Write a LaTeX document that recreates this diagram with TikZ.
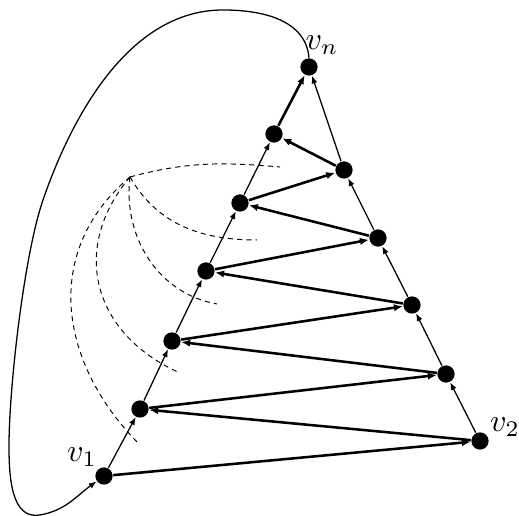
\documentclass[tikz,border=0pt]{standalone}
\usepackage{amsmath}
\usepackage{tikz}
\usetikzlibrary{arrows.meta, positioning}

\begin{document}
\begin{tikzpicture}[
    x=0.011cm, y=0.011cm,
    vertex/.style={circle, fill=black, inner sep=0pt, minimum size=0.19cm},
    edge/.style={-{Latex[length=2.4pt, width=1.9pt]}, line width=0.4pt},
    heavy/.style={-{Latex[length=2.8pt, width=2.3pt]}, line width=0.8pt},
    guide/.style={dash pattern=on 1.6pt off 1.3pt, line width=0.3pt},
]
    \useasboundingbox (0,0) rectangle (519,516);

    % Vertices on the left chain
    \node[vertex] (v1) at (104,40) {};
    \node[vertex] (a1) at (140,107) {};
    \node[vertex] (a2) at (172,175) {};
    \node[vertex] (a3) at (206,245) {};
    \node[vertex] (a4) at (240,313) {};
    \node[vertex] (a5) at (274,382) {};
    \node[vertex] (vn) at (309,449) {};

    % Vertices on the right chain
    \node[vertex] (v2) at (480,75) {};
    \node[vertex] (b1) at (446,142) {};
    \node[vertex] (b2) at (412,211) {};
    \node[vertex] (b3) at (378,278) {};
    \node[vertex] (b4) at (344,346) {};

    % Labels
    \node (lv1) at (82,59) {$v_1$};
    \node (lv2) at (505,89) {$v_2$};
    \node (lvn) at (322,471) {$v_n$};

    % Left chain
    \draw[edge] (v1) -- (a1);
    \draw[edge] (a1) -- (a2);
    \draw[edge] (a2) -- (a3);
    \draw[edge] (a3) -- (a4);
    \draw[edge] (a4) -- (a5);

    % Right chain
    \draw[edge] (v2) -- (b1);
    \draw[edge] (b1) -- (b2);
    \draw[edge] (b2) -- (b3);
    \draw[edge] (b3) -- (b4);
    \draw[edge] (b4) -- (vn);

    % Zigzag
    \draw[heavy] (v1) -- (v2);
    \draw[heavy] (v2) -- (a1);
    \draw[heavy] (a1) -- (b1);
    \draw[heavy] (b1) -- (a2);
    \draw[heavy] (a2) -- (b2);
    \draw[heavy] (b2) -- (a3);
    \draw[heavy] (a3) -- (b3);
    \draw[heavy] (b3) -- (a4);
    \draw[heavy] (a4) -- (b4);
    \draw[heavy] (b4) -- (a5);
    \draw[heavy] (a5) -- (vn);

    % Outer edge from vn back to v1
    \draw[edge] (vn.north) to[out=95, in=0] (223,506)
        to[out=180, in=71, looseness=0.9] (43,316)
        to[out=-109, in=90, looseness=0.6] (9,70)
        to[out=-90, in=190] (40,1)
        to[out=10, in=216] (v1);

    % Dashed sweep
    \coordinate (f) at (130,339);
    \draw[guide] (f) to[out=15, in=175] (280,349);
    \draw[guide] (f) to[out=-60, in=180] (257,276);
    \draw[guide] (f) to[out=-97, in=170] (217,212);
    \draw[guide] (f) to[out=-130, in=156, looseness=1.2] (180,143);
    \draw[guide] (f) to[out=-140, in=135, looseness=1.1] (140,71);
\end{tikzpicture}
\end{document}
